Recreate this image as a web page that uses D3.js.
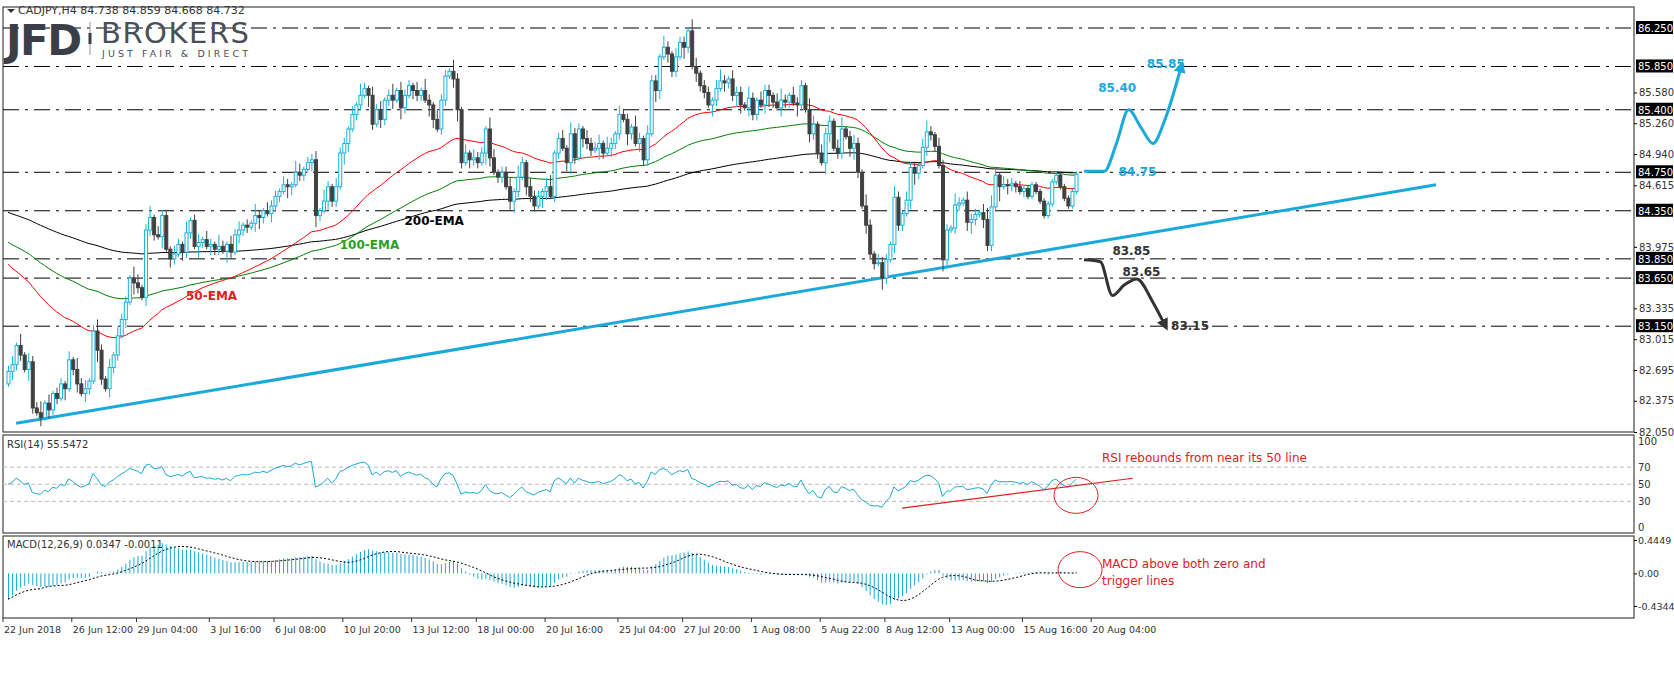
<!DOCTYPE html>
<html><head><meta charset="utf-8">
<script src="https://cdn.jsdelivr.net/npm/d3@7"></script>
<style>
body{margin:0;background:#fff;}
text{font-family:"DejaVu Sans",sans-serif;}
</style></head>
<body><svg id="c" width="1674" height="675"></svg>
<script>
// closes, segment by segment
const segA = [82.68,82.75,82.95,82.85,82.70,82.78,82.30,82.25,82.20,82.35,82.28,82.45,82.40,82.55,82.50,82.80,82.70,82.55,82.45,82.50,82.58,83.10,82.90,82.60,82.50,82.72,82.85];
const segB = [83.05,83.22,83.40,83.65,83.60,83.55,83.45,84.15];
const segC = [84.28,84.10,84.08,84.30,83.95,83.85,83.90,84.00,83.92,84.12,84.25,83.98,84.02,84.05,83.98,84.00,83.95,83.98,83.93,84.00,83.92,84.10];
const segD = [84.15,84.20,84.18,84.22,84.30,84.28,84.35,84.32,84.40,84.50,84.55,84.62,84.60,84.62,84.75,84.72,84.78,84.85,84.88,84.30,84.35,84.45,84.60];
const segE = [84.45,84.60,84.95,85.05,85.20,85.35,85.45,85.55,85.62,85.55];
const segF = [85.25,85.40,85.30,85.50,85.55,85.50,85.60,85.42,85.55,85.65,85.60];
const segG = [85.55,85.60,85.50,85.45,85.30,85.20,85.50,85.75,85.80,85.72,85.40];
const segH = [84.85,84.95,84.88,84.90,84.85,84.95,85.20,84.90,84.75,84.70,84.75];
const segI = [84.60,84.45,84.55,84.70,84.85,84.60,84.50,84.40,84.50,84.55,84.60,84.50];
const segJ = [84.95,85.10,85.00,84.85,85.15,84.90,85.20,85.10,85.05,84.98,85.00,85.05,84.95,85.00,85.05,85.15,85.35,85.30];
const segK = [85.15,85.22,85.05,85.10,84.88,85.15,85.70,85.60];
const segL = [85.95,86.05,85.98,85.80,85.95,86.10,86.05,86.22,85.85,85.78,85.65,85.58,85.45];
const segM = [85.50,85.62,85.70,85.68,85.72,85.55,85.58,85.45,85.42,85.52,85.35,85.50,85.45,85.60,85.55,85.48,85.42,85.50,85.48,85.55,85.47,85.45,85.65];
const segN = [85.40,85.15,85.25,84.95,84.85,85.15,85.28,85.00,84.95,85.20,85.12,85.00,85.05,84.75,84.40,84.20,83.90,83.80];
const segO = [83.81,83.65,83.84,84.00,84.49,84.20,84.32,84.46,84.80,84.74,84.82,85.01,85.17,85.14,85.02,84.82,83.84,84.15,84.17,84.41,84.43,84.46,84.23,84.26,84.31,84.33,84.26,83.99,84.39,84.72,84.60,84.62,84.61,84.63,84.60,84.55,84.58,84.50,84.62,84.55,84.45,84.30,84.42,84.65,84.72,84.60,84.48,84.40,84.55,84.73];
const closes = [].concat(segA,segB,segC,segD,segE,segF,segG,segH,segI,segJ,segK,segL,segM,segN,segO);
const firstOpen = 82.55;
// wick lengths in steps of 0.03 (upper / lower), one digit per bar
const upWick = "231413224131221314231242131322143124132213214123132142132312142132213214312231421322131421323124132213142132214213132214312231421322134123142213223142132214213221421322143122134213221421322134213221431322134123214213221421322134213221421322134421322121";
const dnWick = "132214213132214123132142132213142132214132132214213221421322134213221431221342132214312214213223142132214312213421322143122134213221431221342132214213221421322143132214213221421322431322134213221421322143122134213221421322134213221431221342132215132212";
const wickStep = 0.03;

const priceTicks = [85.58,85.26,84.94,84.615,83.975,83.335,83.015,82.695,82.375,82.05];
const levels = [86.25,85.85,85.40,84.75,84.35,83.85,83.65,83.15];
const dateLabels = ["22 Jun 2018","26 Jun 12:00","29 Jun 04:00","3 Jul 16:00","6 Jul 08:00","10 Jul 20:00","13 Jul 12:00","18 Jul 00:00","20 Jul 16:00","25 Jul 04:00","27 Jul 20:00","1 Aug 08:00","5 Aug 22:00","8 Aug 12:00","13 Aug 00:00","15 Aug 16:00","20 Aug 04:00"];
const dateIdx = [0,17,33,51,67,84,101,117,134,152,168,185,202,218,234,252,269];
const emaSeeds = {50:83.84, 100:84.05, 200:84.35};
// drawn objects, in [bar index, price] / [bar index, value]
const trendLine = [[2,82.14],[353,84.62]];
const bullPath = [[266,84.76],[271,84.76],[274,85.05],[277,85.40],[280,85.22],[283,85.05],[286,85.30],[290,85.85]];
const bearPath = [[266,83.84],[270,83.82],[273,83.47],[276,83.58],[279,83.64],[283,83.40],[286,83.16]];
const rsiTrend = [[221,22],[278,57]];

const N = closes.length;
const svg = d3.select('#c');
const L = 3, R = 1634;
const x = d3.scaleLinear().domain([0, N - 1]).range([8, 1076]);
const y = d3.scaleLinear().domain([82.05, 86.25]).range([432, 28]);
const yR = d3.scaleLinear().domain([0, 100]).range([527, 441.5]);
const yM = d3.scaleLinear().domain([-0.4344, 0.4449]).range([606, 540]);

const bars = closes.map((c, i) => {
  const o = i === 0 ? firstOpen : closes[i - 1];
  const u = +(upWick[i] || 1) * wickStep, d = +(dnWick[i] || 1) * wickStep;
  return { i, o, c, h: Math.max(o, c) + u, l: Math.min(o, c) - d };
});

function ema(arr, n, seed) {
  const k = 2 / (n + 1); let e = seed;
  return arr.map(v => (e = v * k + e * (1 - k)));
}
const ema50 = ema(closes, 50, emaSeeds[50]);
const ema100 = ema(closes, 100, emaSeeds[100]);
const ema200 = ema(closes, 200, emaSeeds[200]);

// RSI(14), Wilder
let ag = 0.06, al = 0.07;
const rsi = bars.map(b => {
  const ch = b.c - b.o;
  ag = (ag * 13 + Math.max(ch, 0)) / 14;
  al = (al * 13 + Math.max(-ch, 0)) / 14;
  return 100 - 100 / (1 + ag / al);
});
// MACD(12,26,9)
const e12 = ema(closes, 12, 82.35), e26 = ema(closes, 26, 82.75);
const macd = e12.map((v, i) => v - e26[i]);
const signal = macd.map((v, i) => d3.mean(macd.slice(Math.max(0, i - 8), i + 1)));

// panels
const panels = [[7, 432], [435, 533], [536, 618]];
panels.forEach(([t, b]) => svg.append('rect').attr('x', L).attr('y', t).attr('width', R - L).attr('height', b - t)
  .attr('fill', 'none').attr('stroke', '#444').attr('stroke-width', 1.2));

const main = svg.append('g');
main.append('clipPath').attr('id', 'cm').append('rect').attr('x', L).attr('y', 7).attr('width', R - L).attr('height', 425);

// level lines
main.selectAll('.lv').data(levels).enter().append('line')
  .attr('x1', L).attr('x2', R).attr('y1', d => y(d)).attr('y2', d => y(d))
  .attr('stroke', '#000').attr('stroke-width', 1).attr('stroke-dasharray', '16,6,3,6');

// price axis
const axR = svg.append('g').attr('transform', `translate(${R},0)`);
axR.call(d3.axisRight(y).tickValues(priceTicks).tickSize(3).tickFormat(d3.format('.3f')));
axR.select('.domain').remove();
axR.selectAll('text').attr('font-size', 10).attr('fill', '#333').attr('x', 5);
const lvl = svg.append('g').selectAll('g').data(levels).enter().append('g')
  .attr('transform', d => `translate(${R + 2},${y(d)})`);
lvl.append('rect').attr('x', 0).attr('y', -7).attr('width', 37).attr('height', 13).attr('fill', '#000');
lvl.append('text').attr('x', 2).attr('y', 4).attr('fill', '#fff').attr('font-size', 10).text(d => d.toFixed(3));

// trend line
const ln = d3.line().x(d => x(d[0])).y(d => y(d[1]));
main.append('path').attr('d', ln(trendLine)).attr('stroke', '#1ba9dc').attr('stroke-width', 3).attr('fill', 'none');

// EMAs
const emaLine = d3.line().x((d, i) => x(i)).y(d => y(d));
[[ema200, '#000'], [ema100, '#008000'], [ema50, '#f00']].forEach(([s, col]) =>
  main.append('path').attr('d', emaLine(s)).attr('stroke', col).attr('stroke-width', 1).attr('fill', 'none'));

// candles
const bull = '#17b2dc', bear = '#404040';
const cg = main.append('g').attr('clip-path', 'url(#cm)');
cg.selectAll('.w').data(bars).enter().append('line')
  .attr('x1', d => x(d.i) + 0.5).attr('x2', d => x(d.i) + 0.5)
  .attr('y1', d => y(d.h)).attr('y2', d => y(d.l))
  .attr('stroke', d => d.c >= d.o ? bull : bear).attr('stroke-width', 1);
cg.selectAll('.b').data(bars).enter().append('rect')
  .attr('x', d => x(d.i) - 1).attr('width', 3)
  .attr('y', d => y(Math.max(d.o, d.c))).attr('height', d => Math.max(1, Math.abs(y(d.o) - y(d.c))))
  .attr('fill', d => d.c >= d.o ? '#fff' : bear).attr('stroke', d => d.c >= d.o ? bull : bear).attr('stroke-width', 1);

// projections
const pl = d3.line().x(d => x(d[0])).y(d => y(d[1])).curve(d3.curveMonotoneX);
const defs = svg.append('defs');
[['ab', '#1ba9dc'], ['ak', '#333']].forEach(([id, col]) => defs.append('marker').attr('id', id)
  .attr('viewBox', '0 0 10 10').attr('refX', 5).attr('refY', 5).attr('markerWidth', 4).attr('markerHeight', 4).attr('orient', 'auto')
  .append('path').attr('d', 'M0,0L10,5L0,10z').attr('fill', col));
main.append('path').attr('d', pl(bullPath)).attr('stroke', '#1ba9dc').attr('stroke-width', 3).attr('fill', 'none').attr('marker-end', 'url(#ab)');
main.append('path').attr('d', pl(bearPath)).attr('stroke', '#333').attr('stroke-width', 3).attr('fill', 'none').attr('marker-end', 'url(#ak)');

const lbl = (xx, yy, t, col, sz) => svg.append('text').attr('x', xx).attr('y', yy).attr('fill', col)
  .attr('font-size', sz || 12).attr('font-weight', 'bold').text(t);
lbl(x(274.5), y(84.75) + 4, '84.75', '#1ba9dc');
lbl(x(269.5), y(85.40) - 18, '85.40', '#1ba9dc');
lbl(x(281.5), y(85.85) + 2, '85.85', '#1ba9dc');
lbl(x(273), y(83.85) - 4, '83.85', '#333');
lbl(x(275.5), y(83.65) - 2, '83.65', '#333');
lbl(x(287.5), y(83.15) + 4, '83.15', '#333');
lbl(x(98), y(84.22) + 2, '200-EMA', '#000');
lbl(x(82), y(83.97) + 2, '100-EMA', '#2a9d2a');
lbl(x(44), y(83.44) + 2, '50-EMA', '#e0201f');

// header and logo
svg.append('path').attr('d', 'M7,9L15,9L11,13z').attr('fill', '#333');
svg.append('text').attr('x', 18).attr('y', 14).attr('font-size', 11).attr('fill', '#333').text('CADJPY,H4  84.738 84.859 84.668 84.732');
svg.append('text').attr('x', 6).attr('y', 55).attr('font-size', 42).attr('font-weight', 'bold').attr('fill', '#3a3f47')
  .attr('font-family', 'Liberation Sans').attr('textLength', 76).text('JFD');
svg.append('line').attr('x1', 90).attr('x2', 90).attr('y1', 22).attr('y2', 55).attr('stroke', '#999');
svg.append('rect').attr('x', 88.5).attr('y', 33).attr('width', 3).attr('height', 11).attr('fill', '#3a3f47');
svg.append('text').attr('x', 101).attr('y', 43).attr('font-size', 29).attr('fill', '#4a4f57').attr('font-family', 'Liberation Serif').attr('textLength', 148).text('BROKERS');
svg.append('text').attr('x', 102).attr('y', 57).attr('font-size', 9.5).attr('fill', '#4a4f57').attr('font-family', 'Liberation Serif').attr('textLength', 146).text('JUST FAIR & DIRECT');

// RSI panel
const rg = svg.append('g');
rg.selectAll('.lv').data([70, 50, 30]).enter().append('line').attr('x1', L).attr('x2', R)
  .attr('y1', d => yR(d)).attr('y2', d => yR(d)).attr('stroke', '#bbb').attr('stroke-dasharray', '4,3');
rg.append('path').attr('d', d3.line().x((d, i) => x(i)).y(d => yR(d))(rsi)).attr('stroke', '#1aa8d6').attr('fill', 'none');
rg.append('path').attr('d', d3.line().x(d => x(d[0])).y(d => yR(d[1]))(rsiTrend)).attr('stroke', '#e0201f').attr('stroke-width', 1.2);
rg.append('ellipse').attr('cx', x(264)).attr('cy', yR(37)).attr('rx', 22).attr('ry', 18).attr('fill', 'none').attr('stroke', '#e0201f');
const ra = svg.append('g').attr('transform', `translate(${R},0)`).call(d3.axisRight(yR).tickValues([100, 70, 50, 30, 0]).tickSize(0));
ra.select('.domain').remove();
ra.selectAll('text').attr('font-size', 10).attr('fill', '#333').attr('x', 4);
svg.append('text').attr('x', 7).attr('y', 448).attr('font-size', 10).attr('fill', '#333').text('RSI(14) 55.5472');
svg.append('text').attr('x', 1102).attr('y', 462).attr('font-size', 12).attr('fill', '#e0201f').text('RSI rebounds from near its 50 line');

// MACD panel
const mg = svg.append('g');
mg.selectAll('.h').data(macd).enter().append('line').attr('x1', (d, i) => x(i) + 0.5).attr('x2', (d, i) => x(i) + 0.5)
  .attr('y1', yM(0)).attr('y2', d => yM(Math.max(-0.44, Math.min(0.45, d)))).attr('stroke', '#1aa8d6');
mg.append('path').attr('d', d3.line().x((d, i) => x(i)).y(d => yM(d))(signal)).attr('stroke', '#000').attr('fill', 'none').attr('stroke-dasharray', '2,2');
mg.append('ellipse').attr('cx', x(265)).attr('cy', yM(0.05)).attr('rx', 22).attr('ry', 18).attr('fill', 'none').attr('stroke', '#e0201f');
const ma = svg.append('g').attr('transform', `translate(${R},0)`).call(d3.axisRight(yM).tickValues([0.4449, 0, -0.4344]).tickSize(3)
  .tickFormat(d => d === 0 ? '0.00' : d.toFixed(4)));
ma.select('.domain').remove();
ma.selectAll('text').attr('font-size', 9.5).attr('fill', '#333').attr('x', 4);
svg.append('text').attr('x', 7).attr('y', 548).attr('font-size', 10).attr('fill', '#333').text('MACD(12,26,9) 0.0347 -0.0011');
svg.append('text').attr('x', 1102).attr('y', 568).attr('font-size', 12).attr('fill', '#e0201f').text('MACD above both zero and');
svg.append('text').attr('x', 1102).attr('y', 585).attr('font-size', 12).attr('fill', '#e0201f').text('trigger lines');

// date axis
const dg = svg.append('g').selectAll('g').data(dateLabels).enter().append('g')
  .attr('transform', (d, k) => `translate(${x(dateIdx[k]) - 5},618)`);
dg.append('line').attr('y1', 0).attr('y2', 4).attr('stroke', '#333');
dg.append('text').attr('x', 1).attr('y', 15).attr('font-size', 9.5).attr('font-family', 'Liberation Sans').attr('fill', '#333').text(d => d);
</script></body></html>
